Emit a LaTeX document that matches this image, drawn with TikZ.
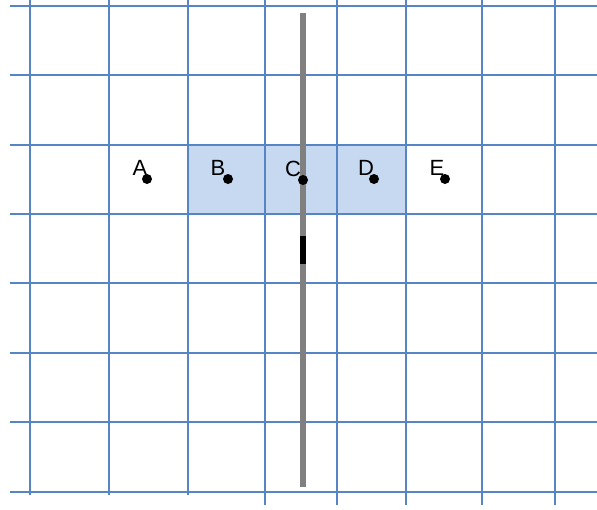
\documentclass[tikz,border=0pt]{standalone}
\usepackage{fontspec}
\setmainfont{Liberation Sans}
\begin{document}
\begin{tikzpicture}[x=1pt,y=-1pt,
  gridline/.style={draw=gridblue,line width=1.8pt},
  dot/.style={circle,fill=black,inner sep=0pt,minimum size=10pt},
  lbl/.style={font=\fontsize{22}{22}\selectfont,inner sep=0pt}]
\definecolor{gridblue}{HTML}{5585C5}
\definecolor{cellfill}{HTML}{C6D9F0}
\definecolor{rodgray}{HTML}{808080}
\useasboundingbox (0,0) rectangle (597,509);
% shaded cells
\fill[cellfill] (188,145) rectangle (406,214);
% horizontal lines
\foreach \y in {6,75,145,214,283,353,422,492}
  \draw[gridline] (10,\y) -- (597,\y);
% vertical lines
\foreach \x in {30,109,188}
  \draw[gridline] (\x,0) -- (\x,495);
\foreach \x in {265,337,406,482,555}
  \draw[gridline] (\x,0) -- (\x,505);
% rod
\draw[rodgray,line width=6.5pt] (303,13) -- (303,487);
\draw[black,line width=6.5pt] (303,236) -- (303,264);
% points
\node[dot] (A) at (147,179) {};
\node[dot] (B) at (228,179) {};
\node[dot] (C) at (303,180) {};
\node[dot] (D) at (374,179) {};
\node[dot] (E) at (445,179) {};
\node[lbl] (lA) at (140,168) {A};
\node[lbl] (lB) at (218,168) {B};
\node[lbl] (lC) at (293,169) {C};
\node[lbl] (lD) at (366,168) {D};
\node[lbl] (lE) at (437,168) {E};
\end{tikzpicture}
\end{document}
